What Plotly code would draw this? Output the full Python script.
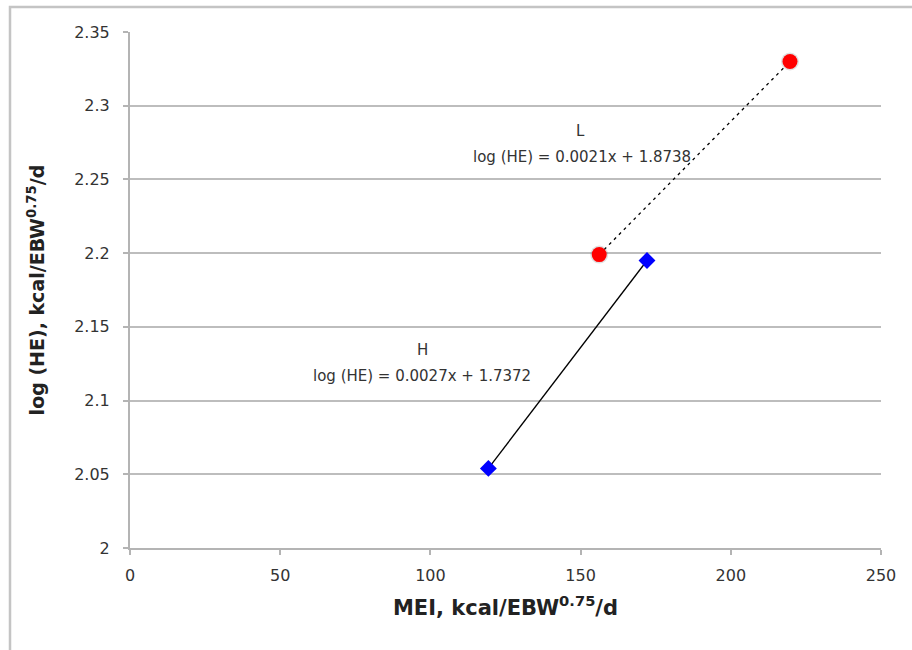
import plotly.graph_objects as go

# Data
L_x = [156.2, 219.7]
L_y = [2.199, 2.330]
H_x = [119.3, 172.1]
H_y = [2.054, 2.195]

x_ticks = [0, 50, 100, 150, 200, 250]
y_ticks = [2, 2.05, 2.1, 2.15, 2.2, 2.25, 2.3, 2.35]
y_tick_labels = ["2", "2.05", "2.1", "2.15", "2.2", "2.25", "2.3", "2.35"]

FONT = "'DejaVu Sans', sans-serif"

fig = go.Figure()

# Trend lines
fig.add_trace(go.Scatter(x=L_x, y=L_y, mode="lines",
                         line=dict(color="black", width=1.3, dash="3px,4px"),
                         showlegend=False, hoverinfo="skip"))
fig.add_trace(go.Scatter(x=H_x, y=H_y, mode="lines",
                         line=dict(color="black", width=1.3),
                         showlegend=False, hoverinfo="skip"))
# Marker shadows
fig.add_trace(go.Scatter(x=L_x, y=L_y, mode="markers",
                         marker=dict(symbol="circle", size=18, color="rgba(0,0,0,0.12)",
                                     line=dict(width=0)),
                         showlegend=False, hoverinfo="skip"))
# Points
fig.add_trace(go.Scatter(x=L_x, y=L_y, mode="markers", name="L",
                         marker=dict(symbol="circle", size=15, color="#ff0000",
                                     line=dict(width=0)),
                         showlegend=False))
fig.add_trace(go.Scatter(x=H_x, y=H_y, mode="markers", name="H",
                         marker=dict(symbol="diamond", size=13, color="#0000ff",
                                     line=dict(width=0)),
                         showlegend=False))

fig.update_layout(
    width=912, height=650,
    margin=dict(l=130, r=31, t=32, b=102),
    paper_bgcolor="white", plot_bgcolor="white",
    font=dict(family=FONT, color="#333333", size=13),
    xaxis=dict(range=[0, 250], tickvals=x_ticks, showgrid=False,
               zeroline=False, showline=True, linecolor="#b4b4b4", linewidth=2,
               ticks="outside", ticklen=5, tickcolor="#b4b4b4", tickwidth=2,
               ticklabelstandoff=7,
               tickfont=dict(size=16, color="#333333"),
               title=dict(text="MEI, kcal/EBW<sup>0.75</sup>/d",
                          font=dict(size=21, color="#222222", family=FONT, weight="bold"),
                          standoff=16)),
    yaxis=dict(range=[2, 2.35], tickvals=y_ticks, ticktext=y_tick_labels,
               showgrid=True, gridcolor="#bdbdbd", gridwidth=2,
               zeroline=False, showline=True, linecolor="#b4b4b4", linewidth=2,
               ticks="outside", ticklen=5, tickcolor="#b4b4b4", tickwidth=2,
               ticklabelstandoff=10,
               tickfont=dict(size=16, color="#333333"),
               title=dict(text="log (HE), kcal/EBW<sup>0.75</sup>/d",
                          font=dict(size=19, color="#222222", family=FONT, weight="bold"),
                          standoff=25)),
    shapes=[dict(type="rect", xref="paper", yref="paper",
                 x0=(10 - 130) / 751, x1=1.2, y0=-0.4, y1=1 + (32 - 7) / 516,
                 line=dict(color="#c4c4c4", width=2.5), fillcolor="rgba(0,0,0,0)",
                 layer="below")],
    annotations=[
        dict(x=150, y=2.283, xref="x", yref="y", text="L", showarrow=False,
             font=dict(size=15, color="#333333")),
        dict(x=150.5, y=2.2655, xref="x", yref="y", text="log (HE) = 0.0021x + 1.8738",
             showarrow=False, font=dict(size=15, color="#333333")),
        dict(x=97.5, y=2.134, xref="x", yref="y", text="H", showarrow=False,
             font=dict(size=15, color="#333333")),
        dict(x=97.2, y=2.1165, xref="x", yref="y", text="log (HE) = 0.0027x + 1.7372",
             showarrow=False, font=dict(size=15, color="#333333")),
    ],
)

fig.write_html("out.html")
